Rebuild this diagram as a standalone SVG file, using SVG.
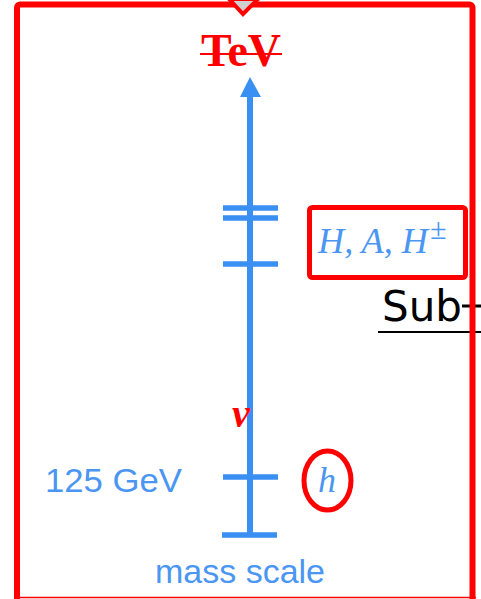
<svg xmlns="http://www.w3.org/2000/svg" width="481" height="599" viewBox="0 0 481 599">
<style>
.axis{stroke:#3a8ff2;stroke-width:6;fill:none}
.tick{stroke:#3a8ff2;stroke-width:5.5;fill:none}
.blue{fill:#4a96f2;font-family:"Liberation Sans",Arial,sans-serif}
.math{fill:#4a96f2;font-family:"Liberation Serif","DejaVu Serif",serif;font-style:italic}
.red{stroke:#ff0000;fill:none}
</style>
<rect width="481" height="599" fill="#ffffff"/>
<g id="sub-label">
<text x="382" y="321" font-family="DejaVu Sans,sans-serif" font-size="43" fill="#000" textLength="80" lengthAdjust="spacingAndGlyphs">Sub</text>
<line x1="462" y1="306" x2="481" y2="306" stroke="#000" stroke-width="3"/>
<line x1="378" y1="332" x2="481" y2="332" stroke="#000" stroke-width="2"/>
</g>
<g id="connectors">
<line class="axis" x1="250" y1="95" x2="250" y2="535"/>
<polygon points="250,77 240,97 261,97" fill="#3a8ff2"/>
<line class="tick" x1="223" y1="208" x2="278" y2="208"/>
<line class="tick" x1="223" y1="218" x2="278" y2="218"/>
<line class="tick" x1="223" y1="264" x2="278" y2="264"/>
<line class="tick" x1="223" y1="477" x2="278" y2="477"/>
<line class="tick" x1="222" y1="535" x2="277" y2="535"/>
</g>
<g id="tev">
<text x="201" y="66" font-family="Liberation Serif,serif" font-weight="bold" font-size="46" fill="#ff0000" textLength="80" lengthAdjust="spacingAndGlyphs">TeV</text>
<line x1="200" y1="54" x2="282" y2="54" stroke="#ff0000" stroke-width="2"/>
</g>
<g id="vev">
<text x="232" y="427" font-family="Liberation Serif,serif" font-style="italic" font-weight="bold" font-size="40" fill="#ff0000">v</text>
</g>
<g id="heavy-higgs">
<rect x="309.5" y="207.5" width="156" height="70" rx="3" class="red" stroke-width="5"/>
<text x="318" y="253" class="math" font-size="36" textLength="110" lengthAdjust="spacingAndGlyphs">H, A, H</text>
<text x="430" y="239" class="math" font-size="30" font-style="normal">±</text>
</g>
<g id="light-higgs">
<ellipse cx="327.5" cy="480.5" rx="23.5" ry="29.5" class="red" stroke-width="5"/>
<text x="318" y="492" class="math" font-size="36">h</text>
</g>
<g id="gev-label">
<text x="45" y="492" class="blue" font-size="34" textLength="137" lengthAdjust="spacingAndGlyphs">125 GeV</text>
</g>
<g id="mass-scale">
<text x="155" y="583" class="blue" font-size="34" textLength="170" lengthAdjust="spacingAndGlyphs">mass scale</text>
</g>
<g id="frame">
<rect x="17" y="4.5" width="455.5" height="600" rx="3" class="red" stroke-width="6"/>
<line x1="14" y1="597.5" x2="476" y2="597.5" stroke="#ff0000" stroke-width="1.5"/>
<polygon points="229,-1 243,14 258,-1" fill="#d0d0d0" stroke="#ff0000" stroke-width="4" stroke-linejoin="miter"/>
</g>
</svg>
